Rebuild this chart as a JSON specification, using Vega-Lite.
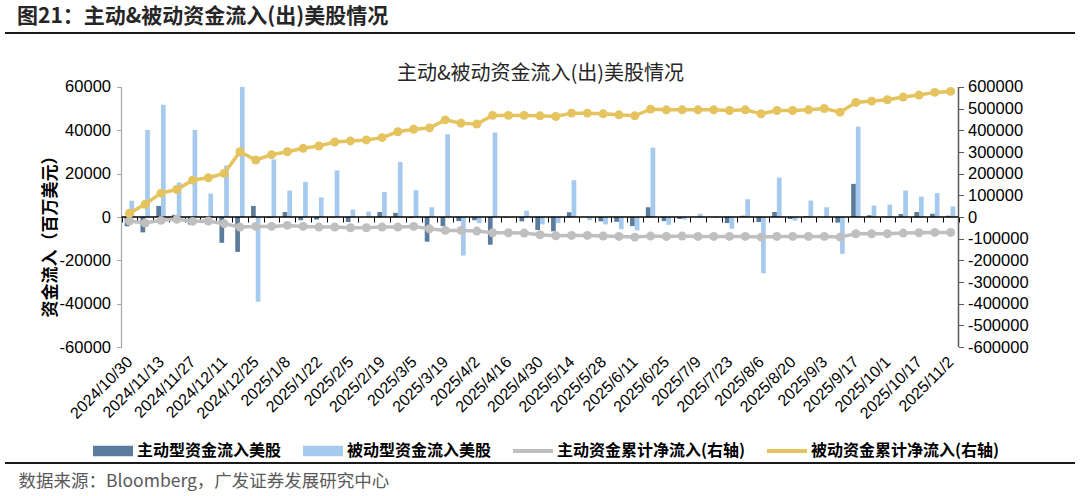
{
  "$schema": "https://vega.github.io/schema/vega-lite/v6.json",
  "width": 1070,
  "height": 430,
  "autosize": {"type": "none"},
  "padding": {"left": 5, "right": 5, "top": 33, "bottom": 33},
  "background": "white",
  "config": {"view": {"stroke": null}, "font": "Noto Sans CJK SC"},
  "title": {
    "text": "图21：主动&被动资金流入(出)美股情况",
    "anchor": "start",
    "frame": "group",
    "orient": "top",
    "fontSize": 21,
    "fontWeight": "bold",
    "font": "Noto Sans CJK SC",
    "color": "#262626",
    "dx": 12,
    "offset": 5
  },
  "datasets": {
    "weekly": [
      {"date": "2024/10/30", "active": -4300, "passive": 7500, "activeCum": -18500, "passiveCum": 17000},
      {"date": "2024/11/6", "active": -7100, "passive": 40200, "activeCum": -27800, "passiveCum": 58700},
      {"date": "2024/11/13", "active": 5100, "passive": 51800, "activeCum": -15500, "passiveCum": 110000},
      {"date": "2024/11/20", "active": 1000, "passive": 15900, "activeCum": -10800, "passiveCum": 126800},
      {"date": "2024/11/27", "active": -3500, "passive": 40200, "activeCum": -20100, "passiveCum": 170000},
      {"date": "2024/12/4", "active": 200, "passive": 10800, "activeCum": -18500, "passiveCum": 181000},
      {"date": "2024/12/11", "active": -11900, "passive": 23800, "activeCum": -30900, "passiveCum": 201000},
      {"date": "2024/12/18", "active": -16100, "passive": 60000, "activeCum": -46400, "passiveCum": 301000},
      {"date": "2024/12/25", "active": 5100, "passive": -39100, "activeCum": -43300, "passiveCum": 263000},
      {"date": "2025/1/1", "active": -500, "passive": 26600, "activeCum": -43300, "passiveCum": 287600},
      {"date": "2025/1/8", "active": 2300, "passive": 12200, "activeCum": -38700, "passiveCum": 301000},
      {"date": "2025/1/15", "active": -1500, "passive": 16200, "activeCum": -43300, "passiveCum": 317000},
      {"date": "2025/1/22", "active": -1200, "passive": 9100, "activeCum": -46400, "passiveCum": 327800},
      {"date": "2025/1/29", "active": -300, "passive": 21500, "activeCum": -46400, "passiveCum": 346000},
      {"date": "2025/2/5", "active": -2300, "passive": 3400, "activeCum": -49500, "passiveCum": 351000},
      {"date": "2025/2/12", "active": 0, "passive": 2500, "activeCum": -49500, "passiveCum": 355600},
      {"date": "2025/2/19", "active": 2300, "passive": 11600, "activeCum": -46400, "passiveCum": 366400},
      {"date": "2025/2/26", "active": 1900, "passive": 25400, "activeCum": -46400, "passiveCum": 393500},
      {"date": "2025/3/5", "active": -500, "passive": 12400, "activeCum": -43300, "passiveCum": 405000},
      {"date": "2025/3/12", "active": -11400, "passive": 4500, "activeCum": -54100, "passiveCum": 411000},
      {"date": "2025/3/19", "active": -4200, "passive": 38200, "activeCum": -61800, "passiveCum": 448300},
      {"date": "2025/3/26", "active": -1900, "passive": -17800, "activeCum": -61800, "passiveCum": 432900},
      {"date": "2025/4/2", "active": -1500, "passive": -2800, "activeCum": -64900, "passiveCum": 429000},
      {"date": "2025/4/9", "active": -12800, "passive": 39000, "activeCum": -72700, "passiveCum": 469000},
      {"date": "2025/4/16", "active": -300, "passive": -300, "activeCum": -72700, "passiveCum": 469000},
      {"date": "2025/4/23", "active": -2000, "passive": 2900, "activeCum": -74200, "passiveCum": 469000},
      {"date": "2025/4/30", "active": -6000, "passive": -3400, "activeCum": -81900, "passiveCum": 466900},
      {"date": "2025/5/7", "active": -6600, "passive": -2800, "activeCum": -86500, "passiveCum": 464000},
      {"date": "2025/5/14", "active": 2200, "passive": 17000, "activeCum": -85000, "passiveCum": 479300},
      {"date": "2025/5/21", "active": 0, "passive": -1500, "activeCum": -85000, "passiveCum": 479300},
      {"date": "2025/5/28", "active": -2000, "passive": -3400, "activeCum": -88100, "passiveCum": 476200},
      {"date": "2025/6/4", "active": -2200, "passive": -5600, "activeCum": -89700, "passiveCum": 471500},
      {"date": "2025/6/11", "active": -4200, "passive": -6200, "activeCum": -92800, "passiveCum": 466900},
      {"date": "2025/6/18", "active": 4500, "passive": 32000, "activeCum": -88100, "passiveCum": 497800},
      {"date": "2025/6/25", "active": -1900, "passive": -3600, "activeCum": -89700, "passiveCum": 494700},
      {"date": "2025/7/2", "active": -900, "passive": -1200, "activeCum": -88100, "passiveCum": 494700},
      {"date": "2025/7/9", "active": 0, "passive": 1500, "activeCum": -89700, "passiveCum": 494700},
      {"date": "2025/7/16", "active": 0, "passive": 300, "activeCum": -89700, "passiveCum": 494700},
      {"date": "2025/7/23", "active": -2800, "passive": -5400, "activeCum": -89700, "passiveCum": 491600},
      {"date": "2025/7/30", "active": 600, "passive": 8200, "activeCum": -89700, "passiveCum": 494700},
      {"date": "2025/8/6", "active": -2300, "passive": -26000, "activeCum": -92800, "passiveCum": 476200},
      {"date": "2025/8/13", "active": 2300, "passive": 18200, "activeCum": -89700, "passiveCum": 491600},
      {"date": "2025/8/20", "active": -900, "passive": -1700, "activeCum": -89700, "passiveCum": 491600},
      {"date": "2025/8/27", "active": 300, "passive": 7600, "activeCum": -89700, "passiveCum": 494700},
      {"date": "2025/9/3", "active": 0, "passive": 4500, "activeCum": -89700, "passiveCum": 500900},
      {"date": "2025/9/10", "active": -2600, "passive": -17000, "activeCum": -92800, "passiveCum": 483900},
      {"date": "2025/9/17", "active": 15300, "passive": 41700, "activeCum": -77300, "passiveCum": 528700},
      {"date": "2025/9/24", "active": 800, "passive": 5300, "activeCum": -77300, "passiveCum": 534900},
      {"date": "2025/10/1", "active": 150, "passive": 5700, "activeCum": -77300, "passiveCum": 541100},
      {"date": "2025/10/9", "active": 1400, "passive": 12200, "activeCum": -74200, "passiveCum": 553500},
      {"date": "2025/10/17", "active": 2300, "passive": 9400, "activeCum": -72700, "passiveCum": 562700},
      {"date": "2025/10/24", "active": 1500, "passive": 11000, "activeCum": -71100, "passiveCum": 575100},
      {"date": "2025/11/2", "active": 600, "passive": 4900, "activeCum": -71100, "passiveCum": 579700}
    ]
  },
  "data": {"name": "weekly"},
  "layer": [
    {
      "layer": [
        {
          "transform": [{"fold": ["active", "passive"], "as": ["series", "value"]}],
          "mark": {"type": "bar"},
          "encoding": {
            "x": {
              "field": "date",
              "type": "nominal",
              "scale": {
                "domain": ["2024/10/30","2024/11/6","2024/11/13","2024/11/20","2024/11/27","2024/12/4","2024/12/11","2024/12/18","2024/12/25","2025/1/1","2025/1/8","2025/1/15","2025/1/22","2025/1/29","2025/2/5","2025/2/12","2025/2/19","2025/2/26","2025/3/5","2025/3/12","2025/3/19","2025/3/26","2025/4/2","2025/4/9","2025/4/16","2025/4/23","2025/4/30","2025/5/7","2025/5/14","2025/5/21","2025/5/28","2025/6/4","2025/6/11","2025/6/18","2025/6/25","2025/7/2","2025/7/9","2025/7/16","2025/7/23","2025/7/30","2025/8/6","2025/8/13","2025/8/20","2025/8/27","2025/9/3","2025/9/10","2025/9/17","2025/9/24","2025/10/1","2025/10/9","2025/10/17","2025/10/24","2025/11/2"],
                "range": [116.5, 953.5],
                "paddingOuter": 0,
                "paddingInner": 0
              },
              "axis": {
                "title": "数据来源：Bloomberg，广发证券发展研究中心",
                "titleX": 13,
                "titleY": 264,
                "titleAlign": "left",
                "titleAnchor": "start",
                "titleBaseline": "middle",
                "titleFontSize": 17.5,
                "titleFontWeight": "normal",
                "titleColor": "#595959",
                "titleFont": "Noto Sans CJK SC",
                "offset": -246,
                "domain": false,
                "ticks": true,
                "tickBand": "extent",
                "tickSize": 5,
                "tickColor": "#000000",
                "labelAngle": -45,
                "labelAlign": "right",
                "labelBaseline": "middle",
                "labelPadding": 137,
                "labelFontSize": 16,
                "labelFont": "Liberation Sans",
                "labelColor": "#000000",
                "labelOverlap": false,
                "labelExpr": "indexof(domain('x'), datum.value) % 2 === 0 ? datum.value : ''",
                "grid": false
              }
            },
            "xOffset": {
              "field": "series",
              "type": "nominal",
              "scale": {"domain": ["active", "passive"], "paddingOuter": 0.68, "paddingInner": 0}
            },
            "y": {
              "field": "value",
              "type": "quantitative",
              "scale": {"domain": [-113538, 84923], "nice": false, "zero": false},
              "axis": {
                "orient": "left",
                "offset": -116.5,
                "values": [-60000, -40000, -20000, 0, 20000, 40000, 60000],
                "domain": false,
                "grid": false,
                "tickSize": 5,
                "tickColor": "#a6a6a6",
                "labelPadding": 6,
                "labelFontSize": 16.5,
                "labelFont": "Liberation Sans",
                "labelColor": "#000000",
                "labelExpr": "'' + datum.value",
                "title": "资金流入（百万美元）",
                "titleX": -71.5,
                "titleY": 199,
                "titleAngle": -90,
                "titleAlign": "center",
                "titleBaseline": "middle",
                "titleFontSize": 17,
                "titleFontWeight": "bold",
                "titleColor": "#000000",
                "titleFont": "Noto Sans CJK SC"
              }
            },
            "color": {
              "field": "series",
              "type": "nominal",
              "scale": {
                "domain": ["active", "passive", "activeCum", "passiveCum"],
                "range": ["#5b7c9c", "#a6caee", "#bfbfbf", "#e5c35e"]
              },
              "legend": {
                "title": null,
                "orient": "none",
                "legendX": 88,
                "legendY": 398,
                "direction": "horizontal",
                "columns": 4,
                "columnPadding": 21,
                "labelOffset": 4,
                "labelLimit": 400,
                "labelFontSize": 16,
                "labelFontWeight": "bold",
                "labelFont": "Noto Sans CJK SC",
                "labelColor": "#000000",
                "symbolSize": 1600,
                "labelExpr": "datum.value === 'active' ? '主动型资金流入美股' : datum.value === 'passive' ? '被动型资金流入美股' : datum.value === 'activeCum' ? '主动资金累计净流入(右轴)' : '被动资金累计净流入(右轴)'",
                "encode": {
                  "symbols": {
                    "update": {
                      "shape": {"signal": "datum.value === 'active' || datum.value === 'passive' ? 'M-1,-0.26H1V0.26H-1Z' : 'M-1,-0.1H1V0.1H-1Z'"},
                      "fill": {"signal": "scale('color', datum.value)"},
                      "fillOpacity": {"value": 1},
                      "opacity": {"value": 1},
                      "strokeWidth": {"value": 0}
                    }
                  }
                }
              }
            }
          }
        },
        {
          "data": {"values": [{}]},
          "mark": {"type": "rule", "color": "#a6a6a6", "strokeWidth": 1.2},
          "encoding": {
            "x": {"datum": "2024/10/30", "type": "nominal", "bandPosition": 0},
            "y": {"datum": -60000, "type": "quantitative"},
            "y2": {"datum": 60000}
          }
        },
        {
          "data": {"values": [{}]},
          "mark": {"type": "rule", "color": "#595959", "strokeWidth": 1.5},
          "encoding": {
            "x": {"datum": "2025/11/2", "type": "nominal", "bandPosition": 1},
            "y": {"datum": -60000, "type": "quantitative"},
            "y2": {"datum": 60000}
          }
        },
        {
          "data": {"values": [{}]},
          "mark": {"type": "rule", "color": "#000000", "strokeWidth": 1.3},
          "encoding": {
            "x": {"datum": "2024/10/30", "type": "nominal", "bandPosition": 0},
            "x2": {"datum": "2025/11/2", "bandPosition": 1},
            "y": {"datum": 0, "type": "quantitative"}
          }
        },
        {
          "data": {"values": [{}]},
          "mark": {"type": "rule", "color": "#1a1a1a", "strokeWidth": 2},
          "encoding": {
            "y": {"datum": 84923, "type": "quantitative"}
          }
        },
        {
          "data": {"values": [{}]},
          "mark": {"type": "rule", "color": "#1a1a1a", "strokeWidth": 2},
          "encoding": {
            "y": {"datum": -113538, "type": "quantitative"}
          }
        }
      ]
    },
    {
      "transform": [{"fold": ["activeCum", "passiveCum"], "as": ["series", "value"]}],
      "mark": {"type": "line", "strokeWidth": 3.5, "point": {"filled": true, "size": 80, "opacity": 1}},
      "encoding": {
        "x": {"field": "date", "type": "nominal"},
        "y": {
          "field": "value",
          "type": "quantitative",
          "scale": {"domain": [-1135380, 849230], "nice": false, "zero": false},
          "axis": {
            "orient": "right",
            "offset": -116.5,
            "values": [-600000, -500000, -400000, -300000, -200000, -100000, 0, 100000, 200000, 300000, 400000, 500000, 600000],
            "domain": false,
            "grid": false,
            "tickSize": 5,
            "tickColor": "#595959",
            "labelPadding": 4,
            "labelFontSize": 16.5,
            "labelFont": "Liberation Sans",
            "labelColor": "#000000",
            "labelExpr": "'' + datum.value",
            "title": "主动&被动资金流入(出)美股情况",
            "titleAngle": 0,
            "titleX": -418.5,
            "titleY": 40,
            "titleAlign": "center",
            "titleBaseline": "middle",
            "titleFontSize": 20,
            "titleFontWeight": "normal",
            "titleColor": "#262626",
            "titleFont": "Noto Sans CJK SC"
          }
        },
        "color": {"field": "series", "type": "nominal"}
      }
    }
  ],
  "resolve": {"scale": {"y": "independent"}}
}
